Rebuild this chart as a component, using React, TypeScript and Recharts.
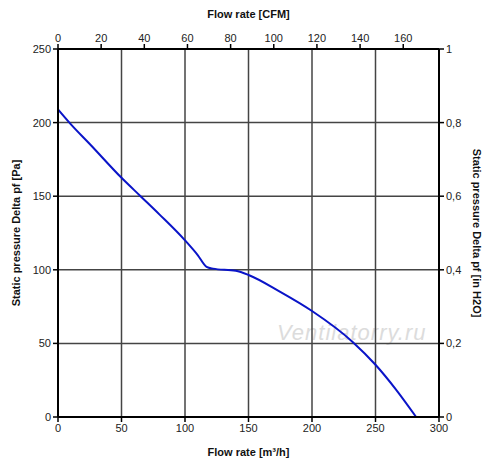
import React from "react";
import { LineChart, Line, XAxis, YAxis, CartesianGrid, Label } from "recharts";

const flowM3h = [0, 10, 25, 50, 65, 80, 100, 110, 117, 122, 140, 150, 175, 200, 232, 250, 266, 282];
const pressurePa = [209, 199, 185.5, 162.5, 150, 137.5, 120, 110, 102, 100.8, 99.3, 96.5, 85, 72, 51, 35.5, 18.8, 0];

const bottomTicks = [0, 50, 100, 150, 200, 250, 300];
const leftTicks = [0, 50, 100, 150, 200, 250];
const topTicks = [0, 20, 40, 60, 80, 100, 120, 140, 160];
const rightTicks = [0, 0.2, 0.4, 0.6, 0.8, 1];

const M3H_PER_CFM = 1.699;
const PA_PER_INH2O = 250;

const data = flowM3h.map((f, i) => ({
  flow: f,
  pa: pressurePa[i],
  cfm: f / M3H_PER_CFM,
  inh2o: pressurePa[i] / PA_PER_INH2O,
}));

const font = "'Liberation Sans', Arial, sans-serif";
const tickStyle = { fontSize: 11, fill: "#222", fontFamily: font };
const labelStyle = { fontSize: 11, fontWeight: "bold" as const, fill: "#111", fontFamily: font };
const axisLine = { stroke: "#000", strokeWidth: 2 };
const tickLine = { stroke: "#000", strokeWidth: 1.5 };

export default function App() {
  return (
    <div style={{ position: "absolute", left: 0, top: 0, width: 500, height: 473, background: "#fff" }}>
      <div
        style={{
          position: "absolute",
          left: 277,
          top: 320,
          fontFamily: font,
          fontStyle: "italic",
          fontSize: 22,
          color: "#dcdcdc",
          whiteSpace: "nowrap",
          letterSpacing: 1,
        }}
      >
        Ventilatorry.ru
      </div>
      <div style={{ position: "absolute", left: 0, top: 0 }}>
        <LineChart width={500} height={473} data={data} margin={{ top: 0, right: 0, bottom: 0, left: 0 }}>
          <CartesianGrid
            xAxisId="bottom"
            yAxisId="left"
            stroke="#444"
            strokeWidth={1.5}
            horizontalValues={leftTicks}
            verticalValues={bottomTicks}
          />
          <XAxis
            xAxisId="bottom"
            dataKey="flow"
            type="number"
            domain={[0, 300]}
            ticks={bottomTicks}
            height={56}
            tick={tickStyle}
            axisLine={axisLine}
            tickLine={tickLine}
            tickSize={5}
            interval={0}
          >
            <Label value="Flow rate [m³/h]" position="insideBottom" offset={17} style={labelStyle} />
          </XAxis>
          <XAxis
            xAxisId="top"
            orientation="top"
            dataKey="cfm"
            type="number"
            domain={[0, 300 / M3H_PER_CFM]}
            ticks={topTicks}
            height={49}
            tick={tickStyle}
            axisLine={axisLine}
            tickLine={tickLine}
            tickSize={5}
            interval={0}
            allowDataOverflow
          >
            <Label value="Flow rate [CFM]" position="insideTop" offset={10} style={labelStyle} />
          </XAxis>
          <YAxis
            yAxisId="left"
            type="number"
            domain={[0, 250]}
            ticks={leftTicks}
            width={58}
            tick={tickStyle}
            axisLine={axisLine}
            tickLine={tickLine}
            tickSize={5}
            interval={0}
          >
            <Label value="Static pressure Delta pf [Pa]" angle={-90} position="insideLeft" offset={16} style={{ ...labelStyle, textAnchor: "middle" }} />
          </YAxis>
          <YAxis
            yAxisId="right"
            orientation="right"
            type="number"
            domain={[0, 1]}
            ticks={rightTicks}
            width={61}
            tick={tickStyle}
            axisLine={axisLine}
            tickLine={tickLine}
            tickSize={5}
            interval={0}
            tickFormatter={(v: number) => String(v).replace(".", ",")}
            allowDataOverflow
          >
            <Label value="Static pressure Delta pf [in H2O]" angle={90} position="insideRight" offset={23} style={{ ...labelStyle, textAnchor: "middle" }} />
          </YAxis>
          <Line
            xAxisId="top"
            yAxisId="right"
            dataKey="inh2o"
            stroke="none"
            dot={false}
            activeDot={false}
            isAnimationActive={false}
          />
          <Line
            xAxisId="bottom"
            yAxisId="left"
            dataKey="pa"
            type="monotone"
            stroke="#0a14c8"
            strokeWidth={2}
            dot={false}
            activeDot={false}
            isAnimationActive={false}
          />
        </LineChart>
      </div>
    </div>
  );
}
